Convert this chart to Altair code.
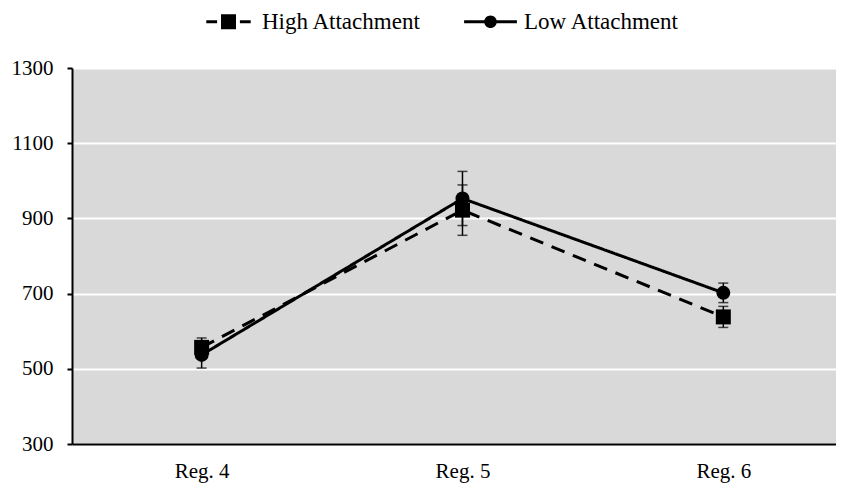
import altair as alt
import pandas as pd

# ---- data ----
regions = ["Reg. 4", "Reg. 5", "Reg. 6"]
series = ["High Attachment", "Low Attachment"]
high_vals = [557, 922, 638]
high_err = [25, 67, 28]
low_vals = [537, 953, 702]
low_err = [35, 72, 26]
y_ticks = [300, 500, 700, 900, 1100, 1300]

rows = []
for i, r in enumerate(regions):
    rows.append({"idx": i, "region": r, "series": series[0], "rt": high_vals[i],
                 "lo": high_vals[i] - high_err[i], "hi": high_vals[i] + high_err[i]})
    rows.append({"idx": i, "region": r, "series": series[1], "rt": low_vals[i],
                 "lo": low_vals[i] - low_err[i], "hi": low_vals[i] + low_err[i]})
df = pd.DataFrame(rows)

FONT = "Liberation Serif"
label_expr = "[" + ",".join("'" + r + "'" for r in regions) + "][datum.value]"

x_enc = alt.X("idx:Q",
              scale=alt.Scale(domain=[-0.497, 2.432], nice=False, zero=False),
              axis=alt.Axis(values=[0, 1, 2], labelExpr=label_expr, title=None,
                            ticks=False, grid=False, domainColor="black", domainWidth=2,
                            labelFont=FONT, labelFontSize=21, labelColor="black",
                            labelPadding=16))
y_enc = alt.Y("rt:Q",
              scale=alt.Scale(domain=[300, 1300], nice=False, zero=False),
              axis=alt.Axis(values=y_ticks, format="d", title=None, grid=True,
                            gridColor="white", gridWidth=2, domainColor="black",
                            domainWidth=2, tickColor="black", tickSize=5, tickWidth=2,
                            labelFont=FONT, labelFontSize=21, labelColor="black",
                            labelPadding=14))

base = alt.Chart(df)

lines = base.mark_line(color="black", strokeWidth=3, strokeCap="butt").encode(
    x=x_enc, y=y_enc,
    strokeDash=alt.StrokeDash("series:N",
                              scale=alt.Scale(domain=series, range=[[14, 9], [1, 0]]),
                              legend=None),
    detail="series:N",
)

err_rule = base.mark_rule(color="black", strokeWidth=1.5).encode(
    x="idx:Q", y="lo:Q", y2="hi:Q")
cap_lo = base.mark_tick(color="black", orient="horizontal", size=10, thickness=1.5).encode(
    x="idx:Q", y="lo:Q")
cap_hi = base.mark_tick(color="black", orient="horizontal", size=10, thickness=1.5).encode(
    x="idx:Q", y="hi:Q")

points = base.mark_point(filled=True, color="black", opacity=1).encode(
    x="idx:Q", y="rt:Q",
    shape=alt.Shape("series:N", scale=alt.Scale(domain=series, range=["square", "circle"]),
                    legend=None),
    size=alt.Size("series:N", scale=alt.Scale(domain=series, range=[225, 196]), legend=None),
)

path_high = ("M-3.7,-0.25H-1.9V0.25H-3.7Z "
             "M-1.25,-1.25H1.25V1.25H-1.25Z "
             "M1.9,-0.25H3.7V0.25H1.9Z")
path_low = ("M-4.4,-0.25H4.4V0.25H-4.4Z "
            "M-1.05,0A1.05,1.05 0 1,1 1.05,0A1.05,1.05 0 1,1 -1.05,0Z")

legend_layer = base.mark_point(filled=True, color="black", opacity=0).encode(
    x="idx:Q", y="rt:Q",
    shape=alt.Shape("series:N",
                    scale=alt.Scale(domain=series, range=[path_high, path_low]),
                    legend=alt.Legend(title=None, orient="none", direction="horizontal",
                                      legendX=145, legendY=-58, padding=0,
                                      symbolSize=144, symbolOpacity=1,
                                      symbolFillColor="black", symbolStrokeWidth=0,
                                      labelOffset=22, columnPadding=42,
                                      labelFont=FONT, labelFontSize=23,
                                      labelColor="black", labelLimit=400)),
)

chart = alt.layer(lines, err_rule, cap_lo, cap_hi, points, legend_layer).resolve_scale(
    shape="independent", size="independent"
).properties(
    width=764, height=376,
    autosize=alt.AutoSizeParams(type="none"),
    padding={"left": 64, "top": 60, "right": 0, "bottom": 40},
    background="white",
).configure_view(
    fill="#d9d9d9", stroke=None
)

chart.save("out.html", embed_options={"renderer": "svg", "actions": False})
